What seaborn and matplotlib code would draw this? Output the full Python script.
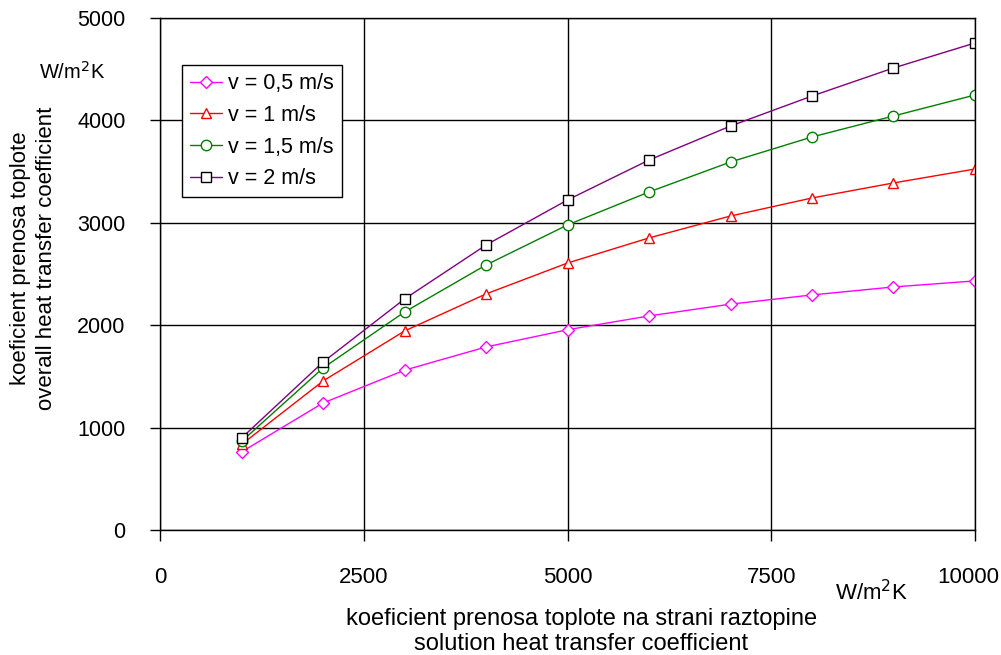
import pandas as pd
import numpy as np
import matplotlib
matplotlib.use('Agg')
from matplotlib import pyplot as plt
from matplotlib.transforms import ScaledTranslation
import seaborn as sns

sns.set_style('white')
plt.rcParams['font.family'] = ['Liberation Sans', 'DejaVu Sans']
plt.rcParams['text.color'] = 'black'
plt.rcParams['axes.labelcolor'] = 'black'
plt.rcParams['xtick.color'] = 'black'
plt.rcParams['ytick.color'] = 'black'

# solution heat transfer coefficient, W/m2K
alpha_sol = [1000, 2000, 3000, 4000, 5000, 6000, 7000, 8000, 9000, 10000]

# overall heat transfer coefficient for each velocity
k_v05 = [762, 1240, 1560, 1787, 1955, 2090, 2205, 2295, 2373, 2432]
k_v10 = [835, 1455, 1943, 2305, 2607, 2852, 3066, 3242, 3389, 3525]
k_v15 = [865, 1582, 2129, 2588, 2979, 3301, 3594, 3838, 4043, 4248]
k_v20 = [898, 1640, 2256, 2783, 3223, 3613, 3945, 4238, 4512, 4756]

labels = ['v = 0,5 m/s', 'v = 1 m/s', 'v = 1,5 m/s', 'v = 2 m/s']

fig = plt.figure(figsize=(10.01, 6.55), dpi=100)
ax = fig.add_axes([0.16, 0.191, 0.814, 0.7815])

series = [k_v05, k_v10, k_v15, k_v20]
line_cols = ['#ff00ff', '#ff0000', '#008000', '#800080']
edge_cols = ['#ff00ff', '#ff0000', '#008000', '#000000']
markers = ['D', '^', 'o', 's']
msizes = [6, 7.5, 7.5, 7.5]

for vals, lab, lc, ec, m, ms in zip(series, labels, line_cols, edge_cols, markers, msizes):
    sns.lineplot(x=alpha_sol, y=vals, ax=ax, color=lc, linewidth=1.0,
                 marker=m, markersize=ms, markerfacecolor='white',
                 markeredgecolor=ec, markeredgewidth=1.0, label=lab)

ax.set_xlim(0, 10000)
ax.set_ylim(0, 5000)
ax.set_xticks([0, 2500, 5000, 7500, 10000])
ax.set_yticks([0, 1000, 2000, 3000, 4000, 5000])

ax.grid(True, color='black', linewidth=1.0)
ax.set_axisbelow(True)
for s in ax.spines.values():
    s.set_color('black')
    s.set_linewidth(1.0)

ax.tick_params(axis='y', direction='out', length=7, width=1, colors='black',
               labelsize=15.5, pad=18, left=True)
ax.tick_params(axis='x', direction='out', length=8, width=1, colors='black',
               labelsize=16, pad=19, bottom=True)

# last x label would be clipped at the figure edge, nudge it left
last = ax.get_xticklabels()[-1]
last.set_transform(last.get_transform() + ScaledTranslation(-7 / 100, 0, fig.dpi_scale_trans))

ax.set_xlabel('koeficient prenosa toplote na strani raztopine\nsolution heat transfer coefficient',
              fontsize=17, linespacing=1.15, color='black')
ax.xaxis.set_label_coords(0.517, -0.153)
ax.set_ylabel('koeficient prenosa toplote\noverall heat transfer coefficient',
              fontsize=16, linespacing=1.3, color='black')
ax.yaxis.set_label_coords(-0.127, 0.53)

fig.text(72 / 1001, 1 - 72 / 655, 'W/m$^2$K', fontsize=14.5, ha='center', va='center')
fig.text(872 / 1001, 1 - 593 / 655, 'W/m$^2$K', fontsize=16, ha='center', va='center')

leg = ax.legend(loc='upper left', bbox_to_anchor=(0.027, 0.908), borderaxespad=0,
                fontsize=15.5, frameon=True, fancybox=False, edgecolor='black',
                framealpha=1, handlelength=1.5, handletextpad=0.25, borderpad=0.37,
                labelspacing=0.5)
leg.get_frame().set_linewidth(1.0)
for t in leg.get_texts():
    t.set_color('black')

plt.savefig('out.png', dpi=100)
